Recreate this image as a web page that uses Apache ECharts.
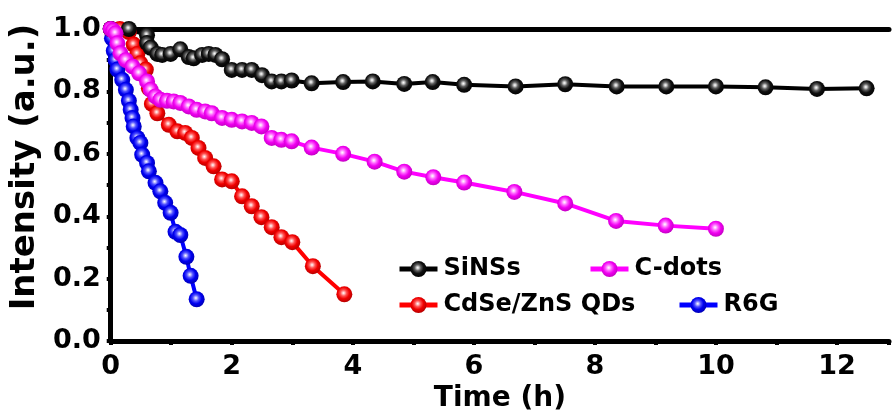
<!DOCTYPE html>
<html>
<head>
<meta charset="utf-8">
<script src="https://cdn.jsdelivr.net/npm/echarts@6/dist/echarts.min.js"></script>
<style>html,body{margin:0;padding:0;background:#fff}#c{width:892px;height:418px}</style>
</head>
<body>
<div id="c"></div>
<script>
// ---- data (Time in h, normalized intensity) ----
var siTime   = [0, 0.3, 0.6, 0.6, 0.66, 0.77, 0.85, 0.99, 1.15, 1.29, 1.37, 1.51, 1.62, 1.73, 1.84, 2.0, 2.17, 2.33, 2.5, 2.66, 2.82, 2.99, 3.32, 3.84, 4.33, 4.85, 5.32, 5.84, 6.69, 7.51, 8.36, 9.18, 10.0, 10.82, 11.67, 12.49];
var siVal    = [1.0, 1.0, 0.98, 0.955, 0.94, 0.92, 0.917, 0.92, 0.935, 0.91, 0.906, 0.917, 0.92, 0.917, 0.903, 0.869, 0.869, 0.869, 0.852, 0.832, 0.832, 0.835, 0.826, 0.83, 0.832, 0.824, 0.83, 0.821, 0.816, 0.823, 0.816, 0.816, 0.816, 0.813, 0.808, 0.81];

var cdTime   = [0, 0.04, 0.08, 0.11, 0.16, 0.25, 0.36, 0.47, 0.6, 0.66, 0.74, 0.82, 0.93, 1.04, 1.15, 1.29, 1.42, 1.56, 1.67, 1.84, 2.0, 2.17, 2.33, 2.49, 2.66, 2.82, 2.99, 3.32, 3.84, 4.36, 4.85, 5.33, 5.84, 6.67, 7.51, 8.35, 9.17, 10.0];
var cdVal    = [1.0, 0.995, 0.986, 0.954, 0.922, 0.9, 0.88, 0.858, 0.832, 0.805, 0.784, 0.773, 0.77, 0.768, 0.763, 0.752, 0.741, 0.736, 0.73, 0.715, 0.709, 0.704, 0.699, 0.688, 0.651, 0.645, 0.64, 0.62, 0.6, 0.575, 0.543, 0.525, 0.508, 0.478, 0.441, 0.385, 0.37, 0.36];

var qdTime   = [0, 0.15, 0.3, 0.38, 0.44, 0.49, 0.58, 0.63, 0.68, 0.77, 0.96, 1.1, 1.23, 1.34, 1.45, 1.56, 1.7, 1.84, 2.0, 2.17, 2.33, 2.49, 2.66, 2.82, 3.0, 3.34, 3.86];
var qdVal    = [1.0, 1.0, 0.99, 0.95, 0.92, 0.89, 0.87, 0.81, 0.76, 0.73, 0.693, 0.672, 0.667, 0.651, 0.619, 0.587, 0.56, 0.518, 0.512, 0.464, 0.432, 0.397, 0.365, 0.333, 0.317, 0.24, 0.15];

var r6Time   = [0, 0.02, 0.05, 0.08, 0.11, 0.19, 0.25, 0.3, 0.33, 0.36, 0.38, 0.44, 0.49, 0.52, 0.6, 0.63, 0.74, 0.82, 0.9, 0.99, 1.07, 1.15, 1.25, 1.32, 1.42];
var r6Val    = [1.0, 0.97, 0.93, 0.9, 0.87, 0.837, 0.805, 0.77, 0.741, 0.715, 0.688, 0.651, 0.635, 0.597, 0.571, 0.544, 0.507, 0.48, 0.443, 0.411, 0.35, 0.34, 0.27, 0.209, 0.134];

var seriesNames = ['SiNSs', 'C-dots', 'CdSe/ZnS QDs', 'R6G'];
var xTicks = [0, 2, 4, 6, 8, 10, 12];
var yTicks = [0.0, 0.2, 0.4, 0.6, 0.8, 1.0];

function pairs(t, v) { return t.map(function (x, i) { return [x, v[i]]; }); }
function ball(hi, mid, base, dark) {
  return { type: 'radial', x: 0.45, y: 0.42, r: 0.6,
    colorStops: [{offset: 0, color: '#ffffff'}, {offset: 0.12, color: hi}, {offset: 0.32, color: mid}, {offset: 0.6, color: base}, {offset: 1, color: dark}] };
}
var FONT = 'DejaVu Sans';
function mkSeries(name, t, v, lineColor, grad) {
  return {
    name: name, type: 'line', data: pairs(t, v),
    symbol: 'circle', symbolSize: 16, showSymbol: true,
    lineStyle: { color: lineColor, width: 4 },
    itemStyle: { color: grad, borderWidth: 0 },
    emphasis: { disabled: true }, animation: false
  };
}
function mkLegend(name, left, top) {
  return { data: [name], left: left, top: top, itemWidth: 38, itemHeight: 20, itemGap: 0, padding: 0,
    lineStyle: { width: 5 },
    textStyle: { fontFamily: FONT, fontWeight: 'bold', fontSize: 24, color: '#000', padding: [0, 0, 0, 1] } };
}

var chart = echarts.init(document.getElementById('c'), null, { renderer: 'canvas' });
chart.setOption({
  backgroundColor: '#fff',
  animation: false,
  grid: { left: 110, right: 0, top: 29, bottom: 76, containLabel: false },
  legend: [
    mkLegend(seriesNames[0], 397, 257),
    mkLegend(seriesNames[1], 588, 257),
    mkLegend(seriesNames[2], 397, 293),
    mkLegend(seriesNames[3], 677, 293)
  ],
  xAxis: [{
    type: 'value', min: xTicks[0], max: 12.86, interval: 2,
    name: 'Time (h)', nameLocation: 'middle', nameGap: 42,
    nameTextStyle: { fontFamily: FONT, fontWeight: 'bold', fontSize: 28, color: '#000' },
    axisLine: { lineStyle: { color: '#000', width: 5 } },
    axisTick: { show: true, inside: false, length: 4, lineStyle: { color: '#000', width: 4 } },
    minorTick: { show: true, splitNumber: 2, length: 4, lineStyle: { color: '#000', width: 4 } },
    axisLabel: { fontFamily: FONT, fontWeight: 'bold', fontSize: 27, color: '#000', margin: 12,
      formatter: function (v) { return xTicks.indexOf(v) >= 0 ? String(v) : ''; } },
    splitLine: { show: false }
  }, {
    type: 'value', position: 'top', min: 0, max: 12.86,
    axisLine: { show: true, lineStyle: { color: '#000', width: 5 } },
    axisTick: { show: false }, axisLabel: { show: false }, splitLine: { show: false }
  }],
  yAxis: [{
    type: 'value', min: 0, max: 1, interval: 0.2,
    name: 'Intensity (a.u.)', nameLocation: 'middle', nameGap: 68, nameRotate: 90,
    nameTextStyle: { fontFamily: FONT, fontWeight: 'bold', fontSize: 34, color: '#000', padding: [0, 0, 0, 36] },
    axisLine: { show: true, lineStyle: { color: '#000', width: 5 } },
    axisTick: { show: true, inside: false, length: 4, lineStyle: { color: '#000', width: 4 } },
    minorTick: { show: true, splitNumber: 2, length: 4, lineStyle: { color: '#000', width: 4 } },
    axisLabel: { fontFamily: FONT, fontWeight: 'bold', fontSize: 27, color: '#000', margin: 10,
      formatter: function (v) { return v.toFixed(1); } },
    splitLine: { show: false }
  }],
  series: [
    mkSeries(seriesNames[3], r6Time, r6Val, '#0000ff', ball('#c0c0ff', '#5050ff', '#0000f0', '#0000b0')),
    mkSeries(seriesNames[2], qdTime, qdVal, '#ff0000', ball('#ffc0c0', '#ff5050', '#f00000', '#b00000')),
    mkSeries(seriesNames[0], siTime, siVal, '#000000', ball('#d0d0d0', '#606060', '#101010', '#000000')),
    mkSeries(seriesNames[1], cdTime, cdVal, '#ff00ff', ball('#ffc8ff', '#ff60ff', '#f000f0', '#c000c0'))
  ]
});
</script>
</body>
</html>
